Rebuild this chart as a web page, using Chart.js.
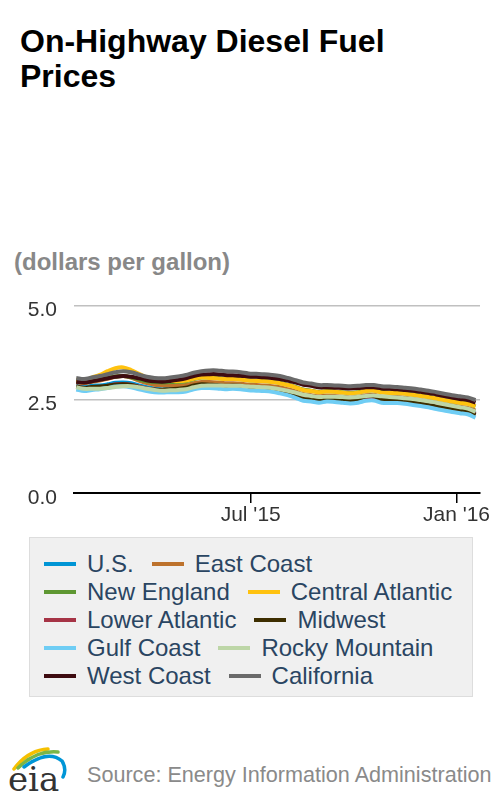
<!DOCTYPE html>
<html><head><meta charset="utf-8">
<script src="https://cdn.jsdelivr.net/npm/chart.js@4.4.0/dist/chart.umd.min.js"></script>
<style>
body{margin:0;width:500px;height:800px;background:#fff;font-family:"Liberation Sans",Arial,sans-serif;position:relative;overflow:hidden}
#title{position:absolute;left:20px;top:24px;font-weight:bold;font-size:32px;line-height:35px;color:#000;margin:0}
#sub{position:absolute;left:14px;top:248px;font-weight:bold;font-size:24px;color:#888;margin:0}
#wrap{position:absolute;left:0;top:276px;width:500px;height:254px}
#legend{position:absolute;left:29px;top:537px;width:444px;height:160px;background:#f0f0f0;border:1px solid #ddd;box-sizing:border-box;padding:12px 0 0 14px;display:flex;flex-wrap:wrap;align-content:flex-start}
.it{display:flex;align-items:center;height:28px;margin-right:18px;font-size:24px;color:#2a4562;white-space:nowrap}
.sw{display:inline-block;width:32px;height:4px;margin-right:11px}
#src{position:absolute;left:87px;top:762px;font-size:21.6px;color:#8a8a8a}
#logo{position:absolute;left:0;top:735px}
</style></head><body>
<h1 id="title">On-Highway Diesel Fuel<br>Prices</h1>
<p id="sub">(dollars per gallon)</p>
<div id="wrap"><canvas id="c" width="500" height="254"></canvas></div>
<div id="legend"></div>
<svg id="logo" width="72" height="65" viewBox="0 0 72 65">
<path d="M14 34 Q28 15 48 14" stroke="#f5c000" stroke-width="3.5" fill="none" stroke-linecap="round"/>
<path d="M18 33 Q36 15 58 17" stroke="#7ab648" stroke-width="3.5" fill="none" stroke-linecap="round"/>
<path d="M24 32 Q48 14 62 26 Q67 34 63 42" stroke="#0096d7" stroke-width="3.5" fill="none" stroke-linecap="round"/>
<text x="8" y="56" font-family="DejaVu Serif, Liberation Serif, serif" font-size="34" fill="#333">eia</text>
</svg>
<div id="src">Source: Energy Information Administration</div>
<script>
const dates = ["2015-01-26","2015-02-02","2015-02-09","2015-02-16","2015-02-23","2015-03-02","2015-03-09","2015-03-16","2015-03-23","2015-03-30","2015-04-06","2015-04-13","2015-04-20","2015-04-27","2015-05-04","2015-05-11","2015-05-18","2015-05-25","2015-06-01","2015-06-08","2015-06-15","2015-06-22","2015-06-29","2015-07-06","2015-07-13","2015-07-20","2015-07-27","2015-08-03","2015-08-10","2015-08-17","2015-08-24","2015-08-31","2015-09-07","2015-09-14","2015-09-21","2015-09-28","2015-10-05","2015-10-12","2015-10-19","2015-10-26","2015-11-02","2015-11-09","2015-11-16","2015-11-23","2015-11-30","2015-12-07","2015-12-14","2015-12-21","2015-12-28","2016-01-04","2016-01-11","2016-01-18"];

const us = [2.86,2.83,2.86,2.87,2.90,2.94,2.95,2.93,2.87,2.82,2.79,2.77,2.79,2.78,2.81,2.87,2.90,2.89,2.88,2.87,2.87,2.87,2.84,2.83,2.82,2.80,2.77,2.71,2.64,2.57,2.55,2.52,2.55,2.53,2.51,2.49,2.52,2.57,2.58,2.51,2.50,2.51,2.48,2.45,2.42,2.39,2.34,2.31,2.27,2.24,2.21,2.12];
const eastCoast = [2.96,2.93,2.97,3.00,3.05,3.10,3.12,3.08,3.00,2.93,2.89,2.87,2.87,2.86,2.88,2.93,2.96,2.96,2.95,2.93,2.93,2.92,2.89,2.88,2.87,2.85,2.82,2.77,2.71,2.64,2.61,2.58,2.60,2.59,2.57,2.55,2.57,2.61,2.62,2.57,2.56,2.56,2.54,2.51,2.48,2.45,2.41,2.37,2.34,2.30,2.27,2.20];
const newEngland = [3.00,2.98,3.02,3.05,3.08,3.11,3.12,3.09,3.03,2.98,2.96,2.95,2.96,2.96,2.98,3.04,3.08,3.08,3.07,3.05,3.05,3.04,3.01,3.00,2.99,2.97,2.94,2.89,2.83,2.76,2.73,2.70,2.72,2.71,2.69,2.67,2.69,2.73,2.74,2.70,2.68,2.68,2.66,2.63,2.60,2.57,2.53,2.49,2.45,2.42,2.39,2.31];
const centralAtlantic = [3.02,3.00,3.08,3.15,3.25,3.33,3.35,3.28,3.18,3.08,3.02,2.99,2.99,2.98,3.00,3.05,3.08,3.07,3.06,3.04,3.04,3.03,3.00,2.99,2.98,2.96,2.93,2.88,2.82,2.75,2.72,2.69,2.71,2.70,2.68,2.66,2.68,2.72,2.73,2.68,2.67,2.67,2.65,2.62,2.59,2.56,2.52,2.48,2.44,2.41,2.38,2.32];
const lowerAtlantic = [2.84,2.80,2.82,2.83,2.86,2.90,2.91,2.89,2.84,2.79,2.76,2.74,2.75,2.75,2.77,2.83,2.86,2.86,2.85,2.83,2.84,2.83,2.80,2.79,2.78,2.76,2.73,2.68,2.61,2.54,2.52,2.49,2.52,2.51,2.49,2.47,2.49,2.54,2.55,2.50,2.49,2.49,2.47,2.44,2.41,2.38,2.33,2.29,2.25,2.22,2.19,2.10];
const midwest = [2.84,2.80,2.83,2.84,2.86,2.89,2.90,2.88,2.83,2.78,2.76,2.75,2.77,2.78,2.81,2.87,2.90,2.89,2.88,2.86,2.87,2.86,2.82,2.81,2.80,2.77,2.73,2.67,2.59,2.51,2.50,2.47,2.51,2.49,2.47,2.45,2.49,2.58,2.59,2.50,2.48,2.49,2.46,2.42,2.39,2.35,2.31,2.27,2.23,2.20,2.17,2.08];
const gulfCoast = [2.76,2.72,2.75,2.77,2.80,2.84,2.85,2.82,2.77,2.72,2.69,2.68,2.69,2.69,2.71,2.77,2.80,2.80,2.79,2.77,2.78,2.77,2.74,2.73,2.72,2.70,2.66,2.61,2.54,2.46,2.44,2.41,2.44,2.43,2.41,2.39,2.41,2.46,2.47,2.41,2.40,2.40,2.38,2.35,2.32,2.29,2.24,2.20,2.16,2.13,2.10,2.01];
const rockyMountain = [2.82,2.78,2.78,2.78,2.80,2.83,2.85,2.85,2.82,2.78,2.75,2.73,2.74,2.75,2.77,2.82,2.86,2.87,2.87,2.86,2.86,2.86,2.84,2.83,2.82,2.80,2.77,2.73,2.68,2.62,2.59,2.56,2.57,2.57,2.56,2.55,2.56,2.59,2.60,2.58,2.56,2.55,2.53,2.51,2.48,2.45,2.41,2.37,2.33,2.29,2.25,2.17];
const westCoast = [2.97,2.95,2.98,3.02,3.06,3.10,3.12,3.10,3.06,3.01,2.98,2.97,2.99,3.02,3.06,3.12,3.16,3.17,3.17,3.15,3.14,3.13,3.11,3.10,3.09,3.07,3.04,3.00,2.95,2.89,2.86,2.82,2.82,2.81,2.80,2.79,2.80,2.82,2.82,2.79,2.78,2.77,2.75,2.73,2.70,2.67,2.63,2.59,2.55,2.51,2.48,2.41];
const california = [3.07,3.04,3.08,3.12,3.17,3.22,3.25,3.22,3.16,3.10,3.07,3.06,3.08,3.11,3.15,3.21,3.25,3.27,3.27,3.25,3.24,3.22,3.19,3.18,3.17,3.15,3.12,3.07,3.01,2.95,2.92,2.88,2.88,2.87,2.86,2.85,2.86,2.88,2.88,2.85,2.84,2.83,2.81,2.79,2.76,2.73,2.69,2.65,2.61,2.58,2.55,2.48];

const seriesNames = ["U.S.","East Coast","New England","Central Atlantic","Lower Atlantic","Midwest","Gulf Coast","Rocky Mountain","West Coast","California"];
const seriesValues = [us,eastCoast,newEngland,centralAtlantic,lowerAtlantic,midwest,gulfCoast,rockyMountain,westCoast,california];
const seriesColors = ["#0095d5","#bd722c","#5e9732","#ffc20f","#a63446","#3d2e00","#6fcdf4","#bdd6a7","#3e0b10","#6a6a6a"];

const xTickDates = ["2015-07-01","2016-01-01"];
const xTickLabels = ["Jul '15","Jan '16"];
const yTicks = [0,2.5,5];
const xStart = "2015-01-24", xEnd = "2016-01-22";

const base = Date.UTC(2015,0,26);
const dayOf = s => { const [y,m,d] = s.split("-").map(Number); return (Date.UTC(y,m-1,d)-base)/86400000; };

const datasets = seriesNames.map((n,i)=>({
  label:n,
  data: seriesValues[i].map((v,j)=>({x:dayOf(dates[j]), y:v})),
  borderColor: seriesColors[i],
  backgroundColor: seriesColors[i],
  borderWidth: 4,
  pointRadius: 0,
  tension: 0.35,
  order: seriesNames.length - i
}));

new Chart(document.getElementById("c"), {
  type: "line",
  data: {datasets},
  options: {
    responsive:false, animation:false,
    layout:{padding:{top:1,right:20,left:0,bottom:0}},
    plugins:{legend:{display:false},tooltip:{enabled:false}},
    scales:{
      x:{type:"linear", min:dayOf(xStart), max:dayOf(xEnd),
        afterBuildTicks: s => { s.ticks = xTickDates.map(d=>({value:dayOf(d)})); },
        afterFit: s => { s.height = 37; },
        ticks:{autoSkip:false, maxRotation:0, padding:0, color:"#333", font:{size:21, family:"Liberation Sans"},
          callback:(v,i)=>xTickLabels[i]},
        grid:{drawOnChartArea:false, drawTicks:true, tickLength:10, color:"#000", lineWidth:1.5},
        border:{color:"#000", width:2}
      },
      y:{min:0,max:5,
        afterBuildTicks: s => { s.ticks = yTicks.map(v=>({value:v})); },
        afterFit: s => { s.width = 74; },
        ticks:{padding:17, labelOffset:5, color:"#333", font:{size:21, family:"Liberation Sans"},
          callback:v=>v.toFixed(1)},
        grid:{color:"#c0c0c0", lineWidth:1.5, drawTicks:false},
        border:{display:false}
      }
    }
  }
});

const lg = document.getElementById("legend");
seriesNames.forEach((n,i)=>{
  const it = document.createElement("div"); it.className="it";
  const sw = document.createElement("span"); sw.className="sw"; sw.style.background=seriesColors[i];
  it.appendChild(sw); it.appendChild(document.createTextNode(n));
  lg.appendChild(it);
});
</script>
</body></html>
